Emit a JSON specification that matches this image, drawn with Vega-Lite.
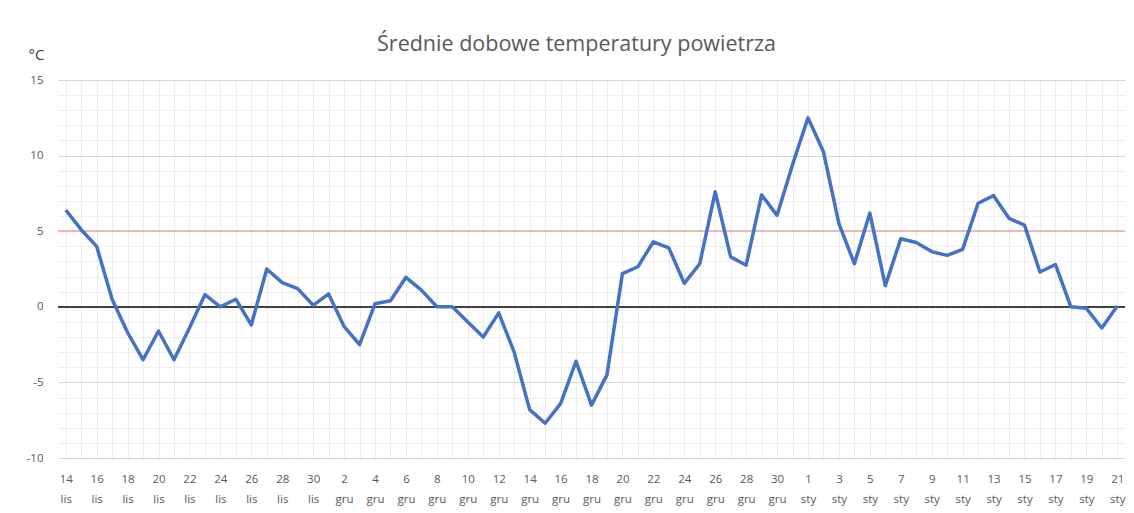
{
  "$schema": "https://vega.github.io/schema/vega-lite/v6.json",
  "autosize": {"type": "none"},
  "padding": {"left": 58, "top": 80, "right": 9, "bottom": 55},
  "width": 1067,
  "height": 378,
  "background": "white",
  "title": {
    "text": "Średnie dobowe temperatury powietrza",
    "font": "Open Sans",
    "fontSize": 21.5,
    "fontWeight": "normal",
    "color": "#595959",
    "anchor": "middle",
    "dx": -15,
    "dy": 34,
    "offset": 26
  },
  "config": {
    "view": {"stroke": null},
    "axis": {"labelFont": "Open Sans", "labelColor": "#595959", "labelFontSize": 11.5}
  },
  "data": {
    "values": [
      {"dzien": "14 lis", "temp": 6.4},
      {"dzien": "15 lis", "temp": 5.1},
      {"dzien": "16 lis", "temp": 4.0},
      {"dzien": "17 lis", "temp": 0.5},
      {"dzien": "18 lis", "temp": -1.7},
      {"dzien": "19 lis", "temp": -3.5},
      {"dzien": "20 lis", "temp": -1.6},
      {"dzien": "21 lis", "temp": -3.5},
      {"dzien": "22 lis", "temp": -1.4},
      {"dzien": "23 lis", "temp": 0.8},
      {"dzien": "24 lis", "temp": 0.0},
      {"dzien": "25 lis", "temp": 0.5},
      {"dzien": "26 lis", "temp": -1.2},
      {"dzien": "27 lis", "temp": 2.5},
      {"dzien": "28 lis", "temp": 1.6},
      {"dzien": "29 lis", "temp": 1.2},
      {"dzien": "30 lis", "temp": 0.1},
      {"dzien": "1 gru", "temp": 0.85},
      {"dzien": "2 gru", "temp": -1.3},
      {"dzien": "3 gru", "temp": -2.5},
      {"dzien": "4 gru", "temp": 0.2},
      {"dzien": "5 gru", "temp": 0.4},
      {"dzien": "6 gru", "temp": 1.95},
      {"dzien": "7 gru", "temp": 1.1},
      {"dzien": "8 gru", "temp": 0.0},
      {"dzien": "9 gru", "temp": 0.0},
      {"dzien": "10 gru", "temp": -1.0},
      {"dzien": "11 gru", "temp": -2.0},
      {"dzien": "12 gru", "temp": -0.4},
      {"dzien": "13 gru", "temp": -3.0},
      {"dzien": "14 gru", "temp": -6.8},
      {"dzien": "15 gru", "temp": -7.7},
      {"dzien": "16 gru", "temp": -6.4},
      {"dzien": "17 gru", "temp": -3.6},
      {"dzien": "18 gru", "temp": -6.5},
      {"dzien": "19 gru", "temp": -4.5},
      {"dzien": "20 gru", "temp": 2.2},
      {"dzien": "21 gru", "temp": 2.65},
      {"dzien": "22 gru", "temp": 4.3},
      {"dzien": "23 gru", "temp": 3.9},
      {"dzien": "24 gru", "temp": 1.55},
      {"dzien": "25 gru", "temp": 2.85},
      {"dzien": "26 gru", "temp": 7.6},
      {"dzien": "27 gru", "temp": 3.3},
      {"dzien": "28 gru", "temp": 2.75},
      {"dzien": "29 gru", "temp": 7.4},
      {"dzien": "30 gru", "temp": 6.05},
      {"dzien": "31 gru", "temp": 9.4},
      {"dzien": "1 sty", "temp": 12.5},
      {"dzien": "2 sty", "temp": 10.25},
      {"dzien": "3 sty", "temp": 5.5},
      {"dzien": "4 sty", "temp": 2.85},
      {"dzien": "5 sty", "temp": 6.2},
      {"dzien": "6 sty", "temp": 1.4},
      {"dzien": "7 sty", "temp": 4.5},
      {"dzien": "8 sty", "temp": 4.25},
      {"dzien": "9 sty", "temp": 3.65},
      {"dzien": "10 sty", "temp": 3.4},
      {"dzien": "11 sty", "temp": 3.8},
      {"dzien": "12 sty", "temp": 6.85},
      {"dzien": "13 sty", "temp": 7.35},
      {"dzien": "14 sty", "temp": 5.85},
      {"dzien": "15 sty", "temp": 5.4},
      {"dzien": "16 sty", "temp": 2.3},
      {"dzien": "17 sty", "temp": 2.8},
      {"dzien": "18 sty", "temp": 0.0},
      {"dzien": "19 sty", "temp": -0.1},
      {"dzien": "20 sty", "temp": -1.4},
      {"dzien": "21 sty", "temp": 0.05}
    ]
  },
  "layer": [
    {
      "mark": {"type": "rule", "color": "#f2b8b0", "strokeWidth": 1.5},
      "encoding": {"y": {"datum": 5, "type": "quantitative"}}
    },
    {
      "mark": {"type": "rule", "color": "#404040", "strokeWidth": 1.2},
      "encoding": {"y": {"datum": 0, "type": "quantitative"}}
    },
    {
      "mark": {"type": "line", "color": "#4472C4", "strokeWidth": 3.5, "strokeJoin": "round"},
      "encoding": {
        "x": {
          "field": "dzien",
          "type": "ordinal",
          "sort": null,
          "scale": {"type": "point", "padding": 0.5},
          "axis": {
            "title": null,
            "orient": "bottom",
            "domain": false,
            "ticks": false,
            "grid": true,
            "gridColor": "#ececec",
            "gridWidth": 1,
            "labelAngle": 0,
            "labelAlign": "center",
            "labelBaseline": "top",
            "labelPadding": 15,
            "labelLineHeight": 20,
            "labelOverlap": false,
            "labelExpr": "(indexof(datum.value, 'sty') >= 0) == (toNumber(split(datum.value, ' ')[0]) % 2 == 1) ? split(datum.value, ' ') : ''"
          }
        },
        "y": {
          "field": "temp",
          "type": "quantitative",
          "scale": {"domain": [-10, 15], "nice": false, "zero": false},
          "axis": {
            "title": "°C",
            "titleAngle": 0,
            "titleAlign": "center",
            "titleBaseline": "alphabetic",
            "titleX": -22,
            "titleY": -21,
            "titleFont": "Open Sans",
            "titleFontSize": 15,
            "titleFontWeight": "normal",
            "titleColor": "#404040",
            "domain": false,
            "ticks": false,
            "tickCount": 25,
            "grid": true,
            "gridColor": {"condition": {"test": "datum.value % 5 === 0", "value": "#d6d6d6"}, "value": "#eeeeee"},
            "labelPadding": 15,
            "labelOverlap": false,
            "labelExpr": "datum.value % 5 === 0 ? toString(datum.value) : ''"
          }
        }
      }
    }
  ]
}
